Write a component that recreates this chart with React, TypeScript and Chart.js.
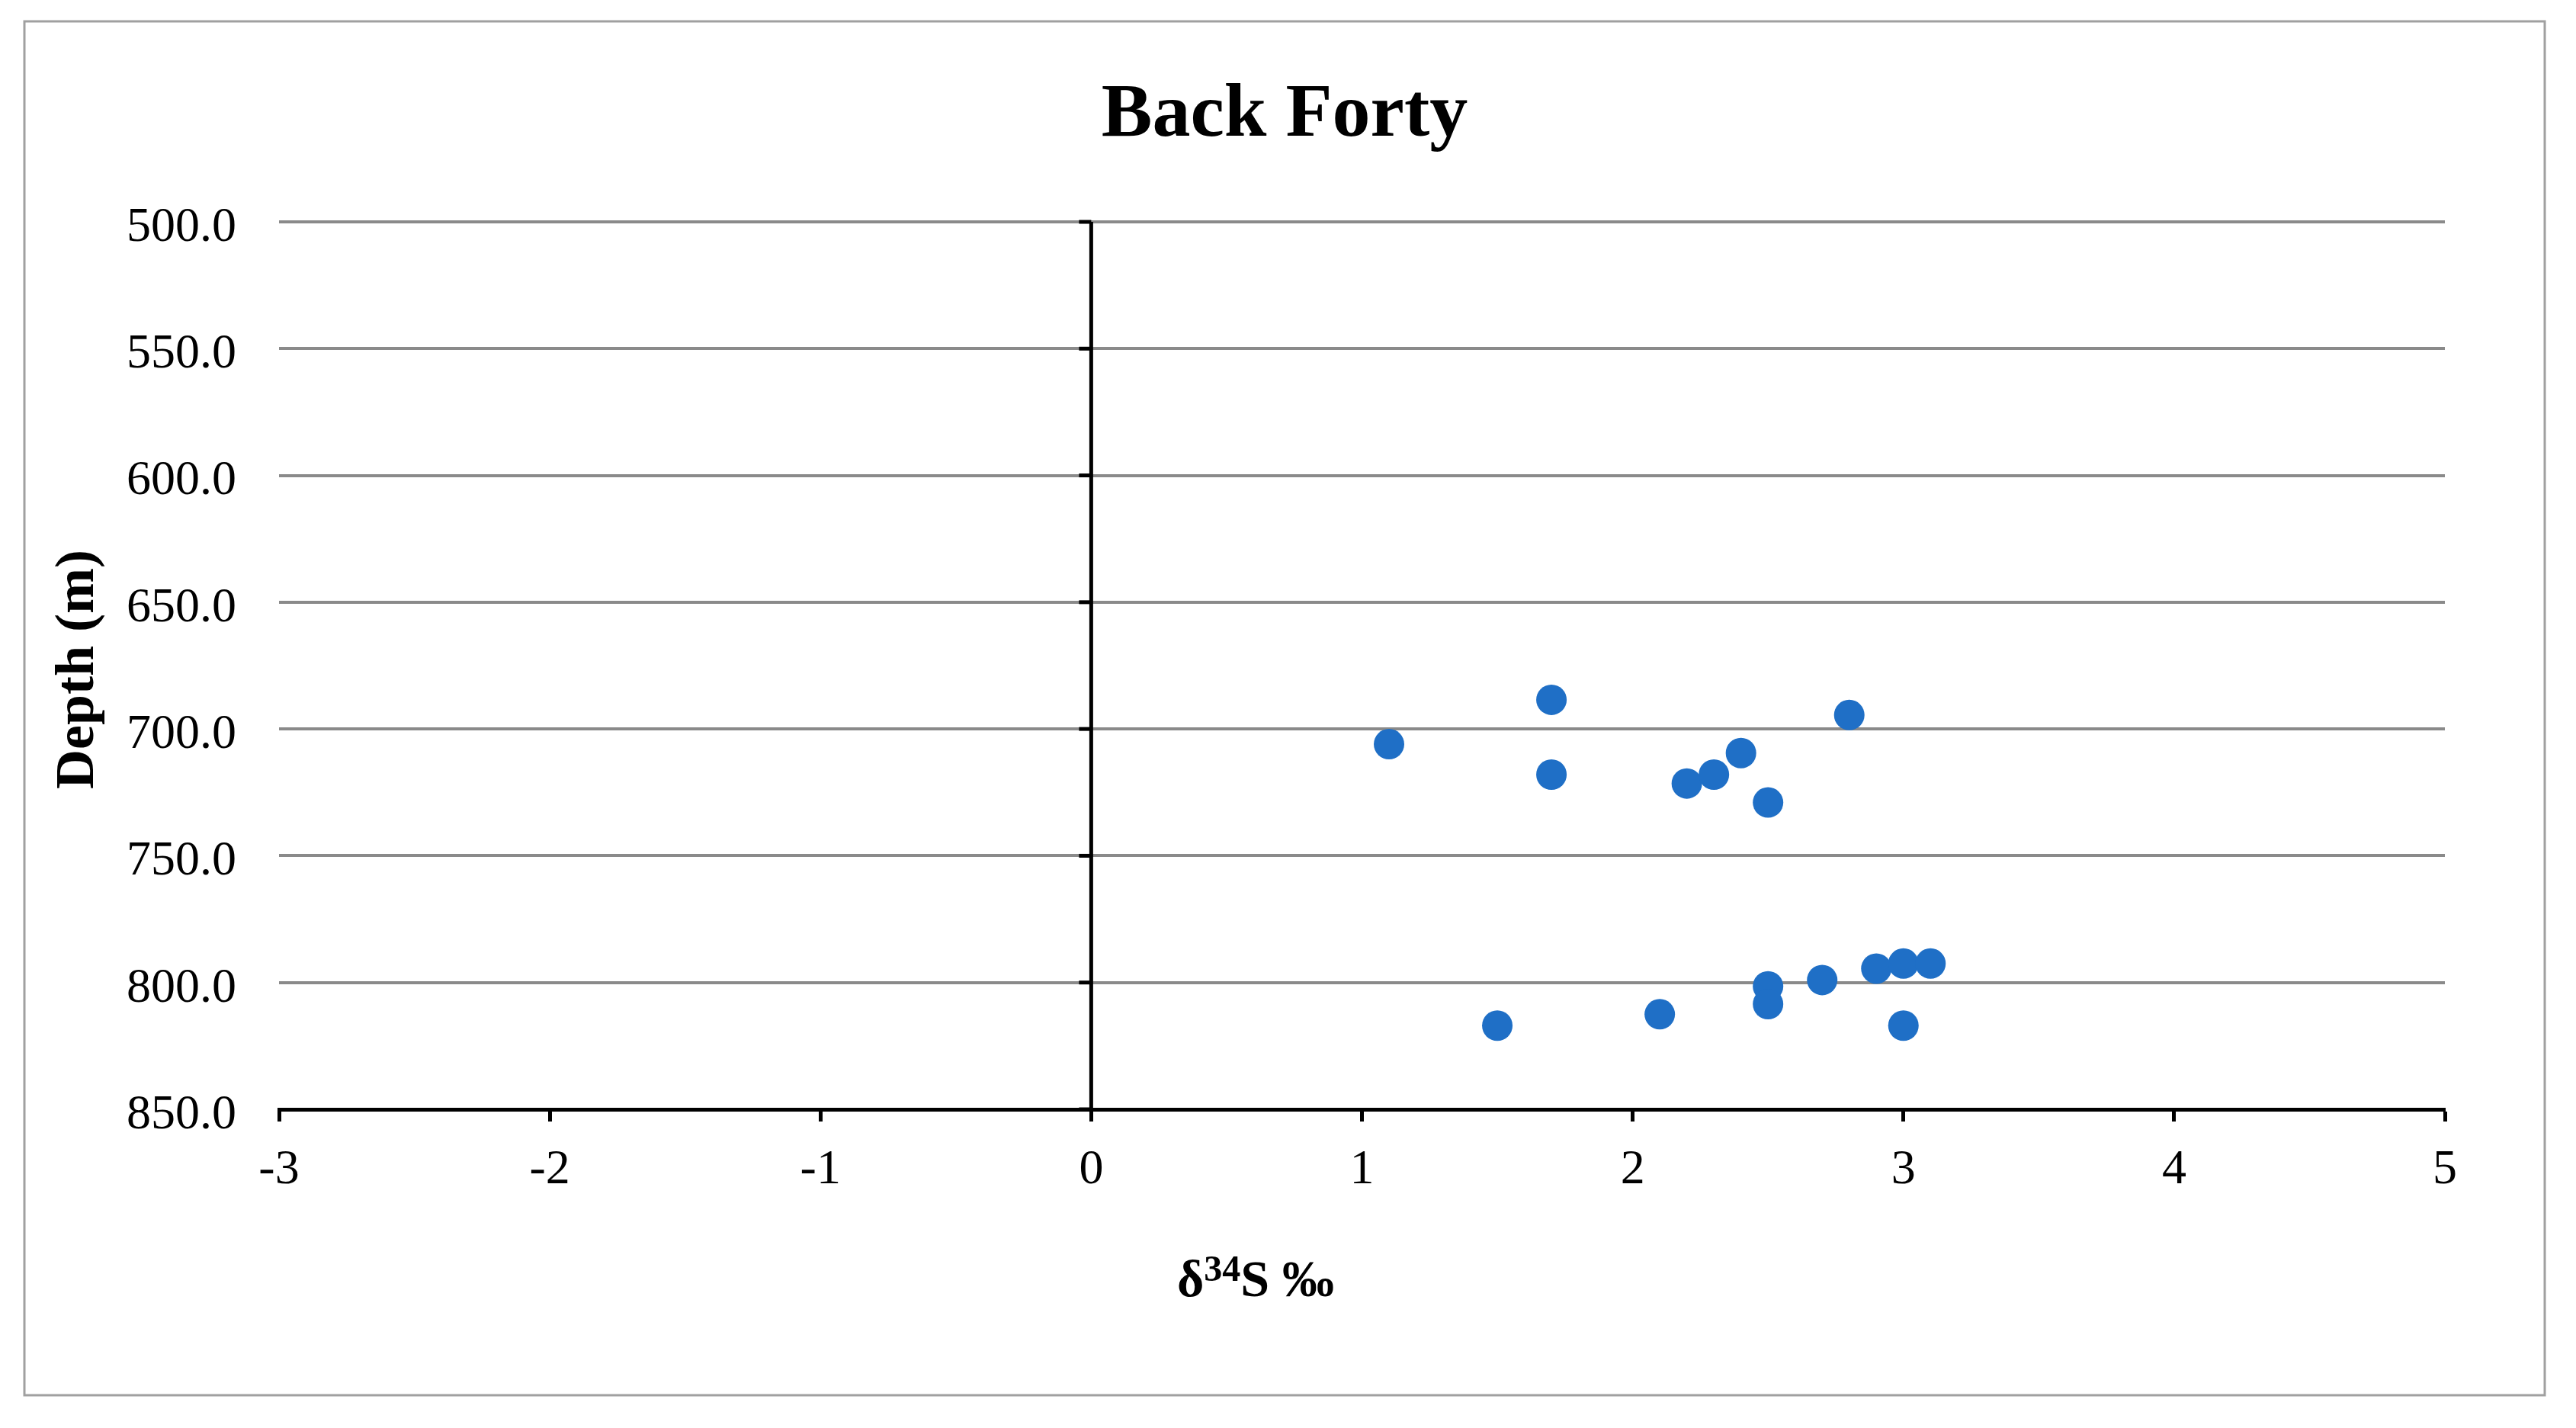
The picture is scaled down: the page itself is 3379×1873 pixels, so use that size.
import React, { useEffect, useRef } from "react";
import { Chart, registerables } from "chart.js";

Chart.register(...registerables);

const chartTitle = "Back Forty";
const yAxisTitle = "Depth (m)";
const xAxisTitleParts = ["δ", "34", "S ‰"];

const delta34S = [1.1, 1.7, 1.7, 2.2, 2.3, 2.4, 2.5, 2.8, 1.5, 2.1, 2.5, 2.5, 2.7, 2.9, 3.0, 3.1, 3.0];
const depthM = [706, 688.5, 718, 721.5, 718, 709.5, 729, 694.5, 817, 812.5, 801.5, 808.5, 799, 794.5, 792.5, 792.5, 817];

const xMin = -3;
const xMax = 5;
const xStep = 1;
const yMin = 500;
const yMax = 850;
const yStep = 50;

const SERIF = '"Liberation Serif", "Times New Roman", serif';
const W = 3363;
const H = 1857;

const decorPlugin = {
  id: "decor",
  beforeDraw(chart: any) {
    const ctx = chart.ctx;
    ctx.save();
    ctx.fillStyle = "#ffffff";
    ctx.fillRect(0, 0, chart.width, chart.height);
    ctx.strokeStyle = "#a0a0a0";
    ctx.lineWidth = 3;
    ctx.strokeRect(24, 20, 3306, 1802);
    ctx.restore();
  },
  beforeDatasetsDraw(chart: any) {
    const ctx = chart.ctx;
    const xs = chart.scales.x;
    const ys = chart.scales.y;
    const x0 = xs.getPixelForValue(0);
    ctx.save();
    ctx.strokeStyle = "#000000";
    ctx.lineWidth = 5;
    ctx.beginPath();
    ctx.moveTo(x0, chart.chartArea.top);
    ctx.lineTo(x0, chart.chartArea.bottom);
    ctx.stroke();
    ys.ticks.forEach((t: any) => {
      const py = ys.getPixelForValue(t.value);
      ctx.beginPath();
      ctx.moveTo(x0 - 16, py);
      ctx.lineTo(x0, py);
      ctx.stroke();
    });
    ctx.restore();
  },
  afterDraw(chart: any) {
    const ctx = chart.ctx;
    ctx.save();
    ctx.fillStyle = "#000000";
    // main title
    ctx.font = `bold 100px ${SERIF}`;
    ctx.textAlign = "center";
    ctx.textBaseline = "alphabetic";
    ctx.fillText(chartTitle, 1677, 170);

    // y axis title
    ctx.save();
    ctx.translate(114, 870);
    ctx.rotate(-Math.PI / 2);
    ctx.font = `bold 72px ${SERIF}`;
    ctx.textAlign = "center";
    ctx.textBaseline = "alphabetic";
    ctx.fillText(yAxisTitle, 0, 0);
    ctx.restore();

    // x axis title with superscript
    const mainFont = `bold 68px ${SERIF}`;
    const supFont = `bold 48px ${SERIF}`;
    ctx.textAlign = "left";
    ctx.font = mainFont;
    const w1 = ctx.measureText(xAxisTitleParts[0]).width;
    const w3 = ctx.measureText(xAxisTitleParts[2]).width;
    ctx.font = supFont;
    const w2 = ctx.measureText(xAxisTitleParts[1]).width;
    const total = w1 + w2 + w3;
    let x = 1639 - total / 2;
    const base = 1692;
    ctx.font = mainFont;
    ctx.fillText(xAxisTitleParts[0], x, base);
    x += w1;
    ctx.font = supFont;
    ctx.fillText(xAxisTitleParts[1], x, base - 20);
    x += w2;
    ctx.font = mainFont;
    ctx.fillText(xAxisTitleParts[2], x, base);
    ctx.restore();
  },
};

export default function App() {
  const ref = useRef<HTMLCanvasElement | null>(null);

  useEffect(() => {
    if (!ref.current) return;
    const points = delta34S.map((v, i) => ({ x: v, y: depthM[i] }));
    const chart = new Chart(ref.current, {
      type: "scatter",
      data: {
        datasets: [
          {
            label: "Back Forty",
            data: points,
            backgroundColor: "#1f6fc6",
            borderColor: "#1f6fc6",
            borderWidth: 0,
            pointRadius: 20,
            pointHoverRadius: 20,
          },
        ],
      },
      options: {
        responsive: false,
        animation: false,
        devicePixelRatio: 1,
        layout: { padding: { left: 0, top: 283, right: 164, bottom: 0 } },
        plugins: {
          legend: { display: false },
          title: { display: false },
          tooltip: { enabled: false },
        },
        scales: {
          x: {
            type: "linear",
            position: "bottom",
            min: xMin,
            max: xMax,
            ticks: {
              stepSize: xStep,
              color: "#000000",
              font: { family: SERIF, size: 64 },
              padding: 26,
            },
            grid: {
              display: true,
              drawOnChartArea: false,
              drawTicks: true,
              tickLength: 16,
              tickWidth: 5,
              tickColor: "#000000",
            },
            border: { display: true, color: "#000000", width: 5 },
            afterFit: (s: any) => {
              s.height = 410;
            },
          },
          y: {
            type: "linear",
            position: "left",
            reverse: true,
            min: yMin,
            max: yMax,
            ticks: {
              stepSize: yStep,
              color: "#000000",
              font: { family: SERIF, size: 64 },
              padding: 56,
              labelOffset: 8,
              crossAlign: "near",
              callback: (v: any) => Number(v).toFixed(1),
            },
            grid: {
              display: true,
              drawOnChartArea: true,
              drawTicks: false,
              lineWidth: 4,
              color: (c: any) => (c.tick && c.tick.value === yMax ? "rgba(0,0,0,0)" : "#8a8a8a"),
            },
            border: { display: false },
            afterFit: (s: any) => {
              s.width = 358;
            },
          },
        },
      },
      plugins: [decorPlugin],
    });
    return () => chart.destroy();
  }, []);

  return (
    <canvas
      ref={ref}
      width={W}
      height={H}
      style={{ display: "block", width: `${W}px`, height: `${H}px` }}
    />
  );
}
